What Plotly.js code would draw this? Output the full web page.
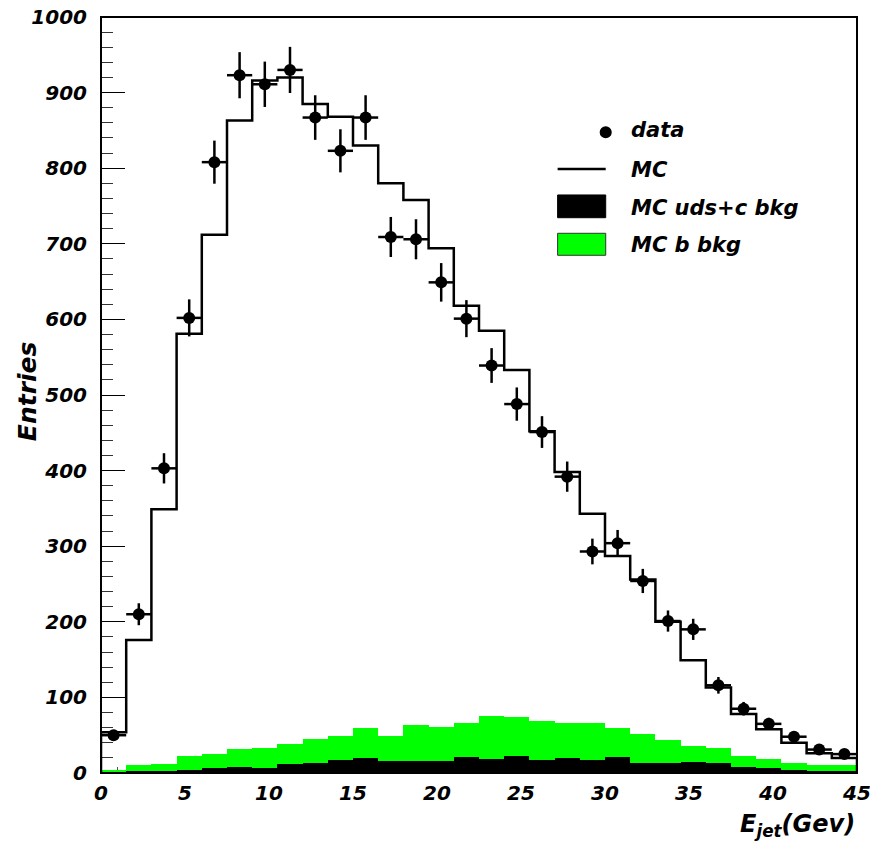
<!DOCTYPE html>
<html>
<head>
<meta charset="utf-8">
<script src="https://cdn.plot.ly/plotly-3.0.1.min.js"></script>
<style>
  html, body { margin: 0; padding: 0; background: #ffffff; }
  #chart { width: 870px; height: 842px; }
</style>
</head>
<body>
<div id="chart"></div>
<script>
// Jet energy spectrum: 30 bins of 1.5 GeV between 0 and 45 GeV
const binCenters = [0.75, 2.25, 3.75, 5.25, 6.75, 8.25, 9.75, 11.25, 12.75, 14.25,
                    15.75, 17.25, 18.75, 20.25, 21.75, 23.25, 24.75, 26.25, 27.75, 29.25,
                    30.75, 32.25, 33.75, 35.25, 36.75, 38.25, 39.75, 41.25, 42.75, 44.25];
const binWidth = 1.5;

// Measured entries and their statistical errors
const dataVals = [50, 210, 403, 602, 808, 923, 911, 930, 867, 823,
                  867, 709, 706, 649, 601, 539, 488, 451, 392, 293,
                  304, 254, 201, 190, 116, 85, 65, 48, 31, 25];
const dataErr = [7, 14.5, 20, 24.5, 28.5, 30.5, 30, 30.5, 29.5, 28.5,
                 29.5, 26.5, 26.5, 25.5, 24.5, 23, 22, 21, 20, 17,
                 17.5, 16, 14, 14, 11, 9, 8, 7, 5.5, 5];

// Simulated spectrum
const mcVals = [54, 176, 349, 581, 712, 863, 916, 920, 885, 868,
                830, 780, 758, 694, 618, 585, 533, 452, 398, 343,
                287, 256, 200, 149, 113, 78, 58, 40, 26, 20];

// Simulated backgrounds (stacked: uds+c at the bottom, b on top)
const udscBkg = [1.5, 2.5, 2.5, 4.5, 6, 7.5, 6, 11.5, 13, 17,
                 20, 15.5, 16, 16, 21.5, 19, 23, 17.5, 20, 17.5,
                 21.5, 13.5, 13.5, 15, 13.5, 8.5, 6, 4.5, 3, 2];
const bBkg = [2, 7.5, 10, 17.5, 19.5, 24.5, 26.7, 27.5, 32.5, 32.5,
              39.5, 33.5, 47, 45, 44.5, 56, 50.5, 51.5, 46.5, 48,
              37.5, 37.5, 30.5, 21, 20, 13.5, 12.5, 9, 7, 8];

const xTickVals = [0, 5, 10, 15, 20, 25, 30, 35, 40, 45];
const legendLabels = ['data', 'MC', 'MC uds+c bkg', 'MC b bkg'];

// Step outline of the MC histogram built from bin edges
const edges = binCenters.map(c => c - binWidth / 2);
edges.push(binCenters[binCenters.length - 1] + binWidth / 2);
const stepX = [edges[0]].concat(edges, [edges[edges.length - 1]]);
const stepY = [0].concat(mcVals, [mcVals[mcVals.length - 1], 0]);

const FONT = 'DejaVu Sans, Liberation Sans, Arial, sans-serif';
const GREEN = '#00ff00';

const traces = [
  {
    type: 'bar', x: binCenters, y: udscBkg, width: binWidth,
    marker: { color: '#000000', line: { width: 0 } },
    name: legendLabels[2], hoverinfo: 'x+y'
  },
  {
    type: 'bar', x: binCenters, y: bBkg, width: binWidth,
    marker: { color: GREEN, line: { width: 0 } },
    name: legendLabels[3], hoverinfo: 'x+y'
  },
  {
    type: 'scatter', mode: 'lines', x: stepX, y: stepY,
    line: { shape: 'hv', color: '#000000', width: 2.5 },
    name: legendLabels[1], cliponaxis: true
  },
  {
    type: 'scatter', mode: 'markers', x: binCenters, y: dataVals,
    marker: { color: '#000000', size: 12, symbol: 'circle' },
    error_y: { type: 'data', array: dataErr, visible: true, thickness: 2.5, width: 0, color: '#000000' },
    error_x: { type: 'constant', value: binWidth / 2, visible: true, thickness: 2.5, width: 0, color: '#000000' },
    name: legendLabels[0], cliponaxis: false
  }
];

const tickFont = { family: FONT, size: 20, color: '#000000', weight: 'bold', style: 'italic' };
const textFont = { family: FONT, size: 21, color: '#000000', weight: 'bold', style: 'italic' };

// Paper-coordinate positions of the legend block
const legX = { sym0: 0.604, sym1: 0.6676, text: 0.6985 };
const legY = [0.850, 0.798, 0.748, 0.699];

const layout = {
  width: 870, height: 842,
  margin: { l: 101, r: 13, t: 17, b: 69 },
  paper_bgcolor: '#ffffff', plot_bgcolor: '#ffffff',
  barmode: 'stack', bargap: 0,
  showlegend: false,
  xaxis: {
    range: [0, 45], tickmode: 'array', tickvals: xTickVals,
    ticktext: xTickVals.map(String), ticklabeloverflow: 'allow',
    ticks: 'inside', ticklen: 12, tickwidth: 1, tickcolor: '#000000',
    minor: { tickmode: 'linear', tick0: 0, dtick: 1, ticks: 'inside', ticklen: 6, tickcolor: '#555555' },
    showgrid: false, zeroline: false, showline: false,
    tickfont: tickFont, ticklabelstandoff: 6,
    layer: 'below traces', fixedrange: true
  },
  yaxis: {
    range: [0, 1000], tickmode: 'linear', tick0: 0, dtick: 100,
    ticks: 'inside', ticklen: 24, tickwidth: 1, tickcolor: '#000000',
    minor: { dtick: 20, ticks: 'inside', ticklen: 12, tickcolor: '#333333' },
    showgrid: false, zeroline: false, showline: false,
    tickfont: tickFont, ticklabelstandoff: 13, ticklabeloverflow: 'allow',
    layer: 'below traces', fixedrange: true
  },
  shapes: [
    // frame
    { type: 'rect', xref: 'paper', yref: 'paper', x0: 0, x1: 1, y0: 0, y1: 1,
      line: { color: '#000000', width: 2 }, layer: 'above' },
    // legend symbols
    { type: 'circle', xref: 'paper', yref: 'paper',
      x0: legX.sym1 - 0.008, x1: legX.sym1 + 0.008, y0: 0.8475 - 0.008, y1: 0.8475 + 0.008,
      fillcolor: '#000000', line: { width: 0 } },
    { type: 'line', xref: 'paper', yref: 'paper',
      x0: legX.sym0, x1: legX.sym1, y0: 0.799, y1: 0.799,
      line: { color: '#000000', width: 2.5 } },
    { type: 'rect', xref: 'paper', yref: 'paper',
      x0: legX.sym0, x1: legX.sym1, y0: 0.7345, y1: 0.7646,
      fillcolor: '#000000', line: { color: '#000000', width: 1 } },
    { type: 'rect', xref: 'paper', yref: 'paper',
      x0: legX.sym0, x1: legX.sym1, y0: 0.6848, y1: 0.7139,
      fillcolor: GREEN, line: { color: '#333333', width: 1 } }
  ],
  annotations: [
    { xref: 'paper', yref: 'paper', x: 1.0, y: -0.07, xanchor: 'right', yanchor: 'middle',
      text: 'E<sub>jet</sub>(Gev)', showarrow: false,
      font: { family: FONT, size: 24, color: '#000000', weight: 'bold', style: 'italic' } },
    { xref: 'paper', yref: 'paper', x: -0.098, y: 0.505, xanchor: 'center', yanchor: 'middle',
      text: 'Entries', textangle: -90, showarrow: false,
      font: { family: FONT, size: 25, color: '#000000', weight: 'bold', style: 'italic' } }
  ].concat(legendLabels.map((t, i) => ({
    xref: 'paper', yref: 'paper', x: legX.text, y: legY[i], xanchor: 'left', yanchor: 'middle',
    text: t, showarrow: false, font: textFont
  })))
};

Plotly.newPlot('chart', traces, layout, { staticPlot: true, displayModeBar: false });
</script>
</body>
</html>
